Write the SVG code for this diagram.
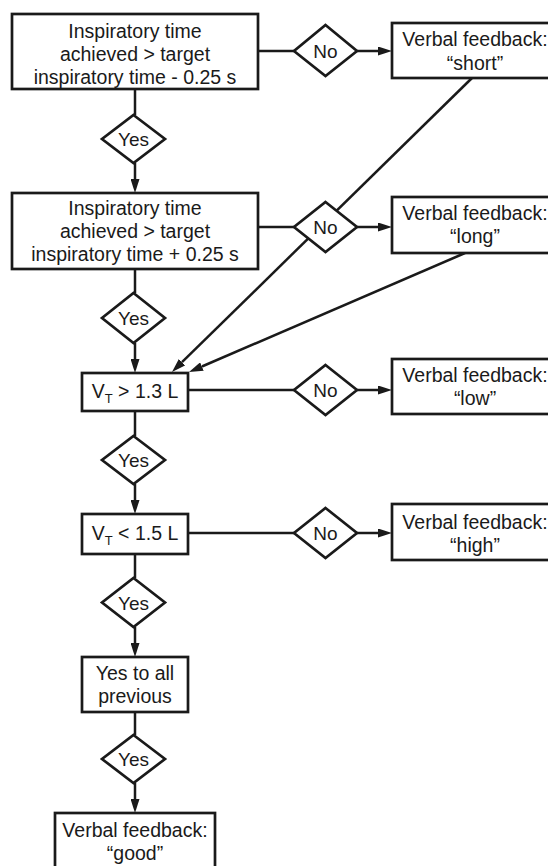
<svg xmlns="http://www.w3.org/2000/svg" width="548" height="866" viewBox="0 0 548 866">
<style>
.box{fill:#fff;stroke:#1a1a1a;stroke-width:2.7}
.dia{fill:#fff;stroke:#1a1a1a;stroke-width:2.7;stroke-linejoin:miter}
.ln{fill:none;stroke:#1a1a1a;stroke-width:2.5}
text{font-family:"Liberation Sans",Arial,sans-serif;font-size:19.5px;fill:#1a1a1a;text-anchor:middle}
.lbl{font-size:19px}
</style>
<defs>
<marker id="ah" viewBox="0 -4.5 14 9" refX="0" refY="0" markerWidth="14" markerHeight="9" markerUnits="userSpaceOnUse" orient="auto">
<path d="M0,-4.5 L14,0 L0,4.5 z" fill="#1a1a1a"/>
</marker>
</defs>
<rect width="548" height="866" fill="#fff"/>
<g id="connectors">
<line class="ln" x1="258" y1="51" x2="294" y2="51"/>
<line class="ln" x1="357" y1="51" x2="378" y2="51" marker-end="url(#ah)"/>
<line class="ln" x1="135" y1="89" x2="135" y2="115"/>
<line class="ln" x1="135" y1="163" x2="135" y2="179" marker-end="url(#ah)"/>
<line class="ln" x1="258" y1="227" x2="294" y2="227"/>
<line class="ln" x1="357" y1="227" x2="378" y2="227" marker-end="url(#ah)"/>
<line class="ln" x1="135" y1="269" x2="135" y2="293"/>
<line class="ln" x1="135" y1="343" x2="135" y2="359" marker-end="url(#ah)"/>
<line class="ln" x1="472" y1="78" x2="182" y2="362.2" marker-end="url(#ah)"/>
<line class="ln" x1="465" y1="253" x2="201.9" y2="366.5" marker-end="url(#ah)"/>
<line class="ln" x1="188" y1="390" x2="294" y2="390"/>
<line class="ln" x1="357" y1="390" x2="378" y2="390" marker-end="url(#ah)"/>
<line class="ln" x1="135" y1="411" x2="135" y2="436"/>
<line class="ln" x1="135" y1="484" x2="135" y2="500" marker-end="url(#ah)"/>
<line class="ln" x1="188" y1="533" x2="294" y2="533"/>
<line class="ln" x1="357" y1="533" x2="378" y2="533" marker-end="url(#ah)"/>
<line class="ln" x1="135" y1="554" x2="135" y2="578"/>
<line class="ln" x1="135" y1="627" x2="135" y2="643" marker-end="url(#ah)"/>
<line class="ln" x1="135" y1="712" x2="135" y2="735"/>
<line class="ln" x1="135" y1="783" x2="135" y2="799" marker-end="url(#ah)"/>
</g>
<g id="q1">
<rect class="box" x="12" y="14" width="246" height="75"/>
<text x="135" y="37.5">Inspiratory time</text>
<text x="135" y="60.5">achieved &gt; target</text>
<text x="135" y="83.5">inspiratory time - 0.25 s</text>
</g>
<g id="no1">
<polygon class="dia" points="325.5,25 357,51 325.5,76 294,51"/>
<text class="lbl" x="325.5" y="58">No</text>
</g>
<g id="short">
<rect class="box" x="392" y="23" width="166" height="55"/>
<text x="475" y="46">Verbal feedback:</text>
<text x="475" y="70">“short”</text>
</g>
<g id="yes1">
<polygon class="dia" points="133.5,115 165,139 133.5,163 102,139"/>
<text class="lbl" x="133.5" y="146">Yes</text>
</g>
<g id="q2">
<rect class="box" x="12" y="193" width="246" height="76"/>
<text x="135" y="215">Inspiratory time</text>
<text x="135" y="238">achieved &gt; target</text>
<text x="135" y="261">inspiratory time + 0.25 s</text>
</g>
<g id="no2">
<polygon class="dia" points="325.5,202 357,227 325.5,252 294,227"/>
<text class="lbl" x="325.5" y="234">No</text>
</g>
<g id="long">
<rect class="box" x="392" y="197" width="166" height="56"/>
<text x="475" y="220">Verbal feedback:</text>
<text x="475" y="243">“long”</text>
</g>
<g id="yes2">
<polygon class="dia" points="133.5,293 165,318 133.5,343 102,318"/>
<text class="lbl" x="133.5" y="325">Yes</text>
</g>
<g id="q3">
<rect class="box" x="82" y="373" width="106" height="38"/>
<text x="135" y="398">V<tspan font-size="13" dy="5">T</tspan><tspan dy="-5"> &gt; 1.3 L</tspan></text>
</g>
<g id="no3">
<polygon class="dia" points="325.5,365 357,390 325.5,415 294,390"/>
<text class="lbl" x="325.5" y="397">No</text>
</g>
<g id="low">
<rect class="box" x="392" y="359" width="166" height="55"/>
<text x="475" y="382">Verbal feedback:</text>
<text x="475" y="405">“low”</text>
</g>
<g id="yes3">
<polygon class="dia" points="133.5,436 165,460 133.5,484 102,460"/>
<text class="lbl" x="133.5" y="467">Yes</text>
</g>
<g id="q4">
<rect class="box" x="82" y="514" width="106" height="40"/>
<text x="135" y="540">V<tspan font-size="13" dy="5">T</tspan><tspan dy="-5"> &lt; 1.5 L</tspan></text>
</g>
<g id="no4">
<polygon class="dia" points="325.5,508 357,533 325.5,558 294,533"/>
<text class="lbl" x="325.5" y="540">No</text>
</g>
<g id="high">
<rect class="box" x="392" y="504" width="166" height="56"/>
<text x="475" y="529">Verbal feedback:</text>
<text x="475" y="552">“high”</text>
</g>
<g id="yes4">
<polygon class="dia" points="133.5,578 165,602.5 133.5,627 102,602.5"/>
<text class="lbl" x="133.5" y="609.5">Yes</text>
</g>
<g id="all">
<rect class="box" x="82" y="657" width="106" height="55"/>
<text x="135" y="680">Yes to all</text>
<text x="135" y="703">previous</text>
</g>
<g id="yes5">
<polygon class="dia" points="133.5,735 165,759 133.5,783 102,759"/>
<text class="lbl" x="133.5" y="766">Yes</text>
</g>
<g id="good">
<rect class="box" x="55" y="813" width="160" height="70"/>
<text x="135" y="837">Verbal feedback:</text>
<text x="135" y="860">“good”</text>
</g>
</svg>
